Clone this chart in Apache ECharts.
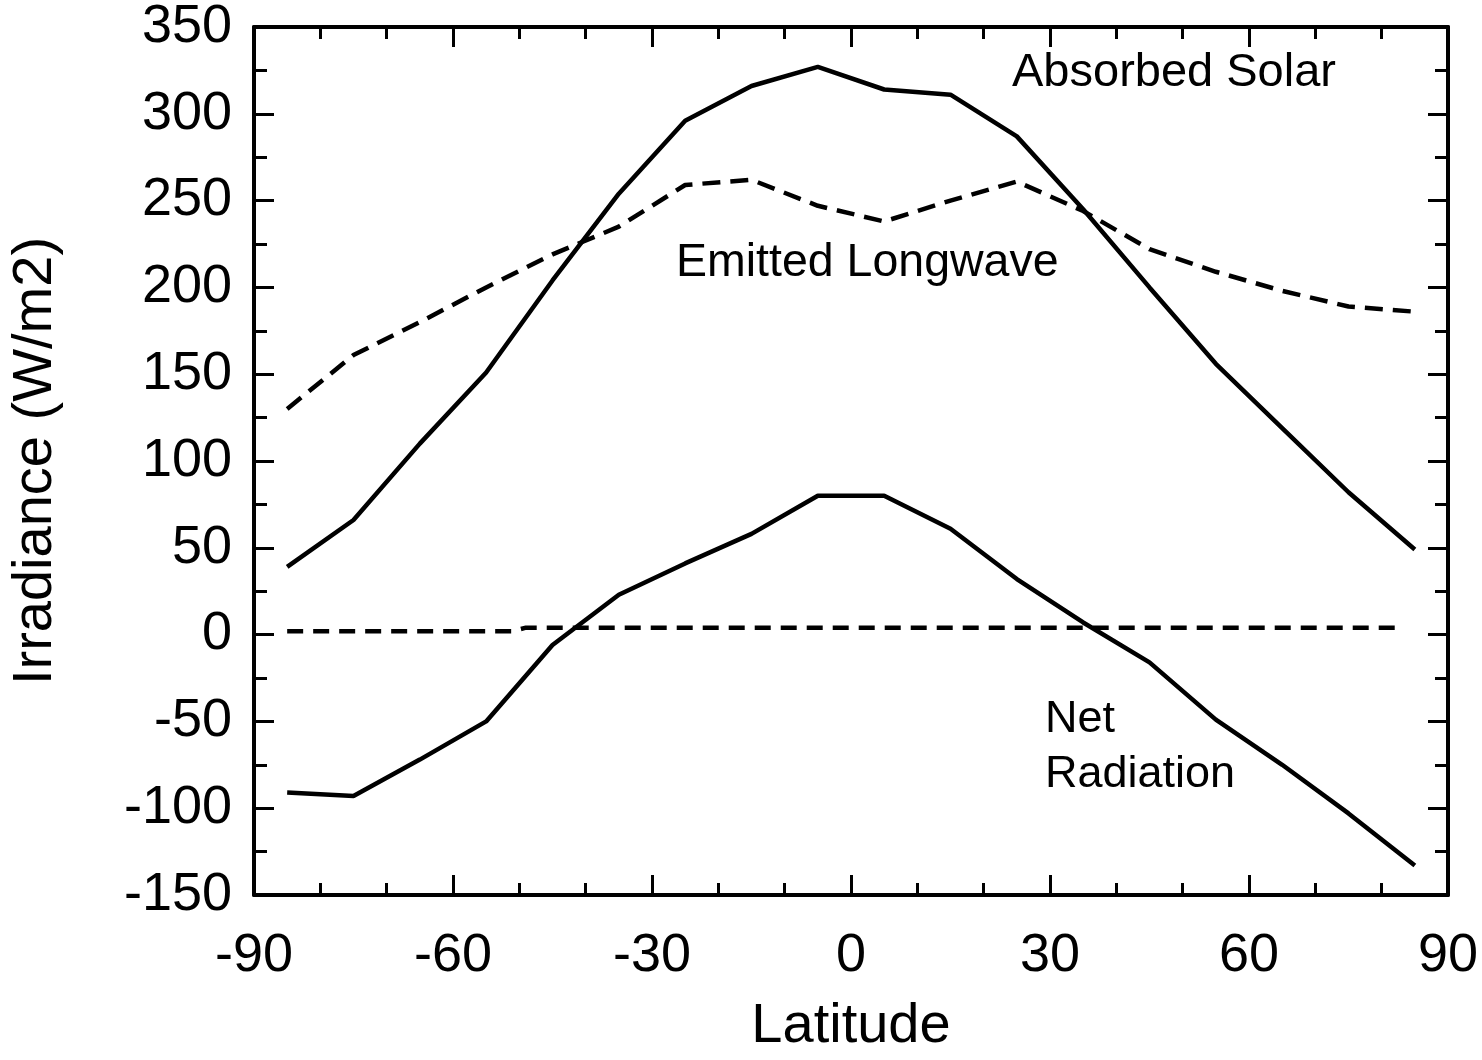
<!DOCTYPE html>
<html>
<head>
<meta charset="utf-8">
<script src="https://cdn.jsdelivr.net/npm/echarts@6/dist/echarts.min.js"></script>
<style>
  html, body { margin: 0; padding: 0; background: #ffffff; overflow: hidden; }
  #chart { width: 1482px; height: 1060px; }
</style>
</head>
<body>
<div id="chart"></div>
<script>
// Latitude band centres (degrees)
const latitudes = [-85, -75, -65, -55, -45, -35, -25, -15, -5, 5, 15, 25, 35, 45, 55, 65, 75, 85];
// Absorbed solar radiation (W/m2)
const absorbedSolar = [39, 66, 110, 151, 204, 254, 296, 316, 327, 314, 311, 287, 245, 200, 156, 119, 82, 49];
// Emitted longwave radiation (W/m2)
const emittedLongwave = [130, 161, 180, 200, 219, 235, 259, 262, 247, 238, 250, 261, 244, 222, 209, 198, 189, 186];
// Net radiation (W/m2)
const netRadiation = [-91, -93, -72, -50, -6, 23, 41, 58, 80, 80, 61, 32, 7, -16, -49, -75, -103, -133];
// Dashed reference (zero) line
const zeroLineLat = [-85, -51, -49, 82.5];
const zeroLineVal = [2, 2, 4, 4];
// Axis tick labels
const xTicks = [-90, -60, -30, 0, 30, 60, 90];
const yTicks = [-150, -100, -50, 0, 50, 100, 150, 200, 250, 300, 350];
// Curve annotations
const annotationTexts = ['Absorbed Solar', 'Emitted Longwave', 'Net', 'Radiation'];

// ---- layout (pixel placement of the annotation texts) ----
const annotationLayout = [
  { x: 1012, y: 73, size: 47 },
  { x: 676, y: 263, size: 46.5 },
  { x: 1045, y: 720, size: 45 },
  { x: 1045, y: 775, size: 45 }
];

const FONT = '"Liberation Sans", Arial, Helvetica, sans-serif';
const pairs = (xs, ys) => xs.map((x, i) => [x, ys[i]]);

const chart = echarts.init(document.getElementById('chart'), null, { renderer: 'canvas' });

const axisLineStyle = { lineStyle: { color: '#000', width: 4 } };
const baseX = {
  type: 'value',
  min: xTicks[0],
  max: xTicks[xTicks.length - 1],
  interval: 30,
  axisLine: { show: true, onZero: false, ...axisLineStyle },
  axisTick: { show: true, inside: true, length: 20, lineStyle: { color: '#000', width: 3 } },
  minorTick: { show: true, splitNumber: 3, length: 12, lineStyle: { color: '#000', width: 3 } },
  splitLine: { show: false },
  minorSplitLine: { show: false }
};
const baseY = {
  type: 'value',
  min: yTicks[0],
  max: yTicks[yTicks.length - 1],
  interval: 50,
  axisLine: { show: true, onZero: false, ...axisLineStyle },
  axisTick: { show: true, inside: true, length: 20, lineStyle: { color: '#000', width: 3 } },
  minorTick: { show: true, splitNumber: 2, length: 13, lineStyle: { color: '#000', width: 3 } },
  splitLine: { show: false },
  minorSplitLine: { show: false }
};

const option = {
  backgroundColor: '#ffffff',
  animation: false,
  grid: { left: 254, right: 34, top: 22, bottom: 156, containLabel: false },
  xAxis: [
    Object.assign({}, baseX, {
      position: 'bottom',
      name: 'Latitude',
      nameLocation: 'middle',
      nameGap: 104,
      nameTextStyle: { fontFamily: FONT, fontSize: 56, color: '#000' },
      axisLabel: { show: true, margin: 34, fontFamily: FONT, fontSize: 54, color: '#000' }
    }),
    Object.assign({}, baseX, {
      position: 'top',
      axisLabel: { show: false }
    })
  ],
  yAxis: [
    Object.assign({}, baseY, {
      position: 'left',
      name: 'Irradiance (W/m2)',
      nameLocation: 'middle',
      nameGap: 190,
      nameRotate: 90,
      nameTextStyle: { fontFamily: FONT, fontSize: 56, color: '#000' },
      axisLabel: { show: true, margin: 22, fontFamily: FONT, fontSize: 54, color: '#000' }
    }),
    Object.assign({}, baseY, {
      position: 'right',
      axisLabel: { show: false }
    })
  ],
  series: [
    {
      name: 'Absorbed Solar', type: 'line', symbol: 'none', xAxisIndex: 0, yAxisIndex: 0,
      data: pairs(latitudes, absorbedSolar),
      lineStyle: { color: '#000', width: 4.5, type: 'solid' }
    },
    {
      name: 'Emitted Longwave', type: 'line', symbol: 'none', xAxisIndex: 0, yAxisIndex: 0,
      data: pairs(latitudes, emittedLongwave),
      lineStyle: { color: '#000', width: 4.5, type: [18, 10] }
    },
    {
      name: 'Net Radiation', type: 'line', symbol: 'none', xAxisIndex: 0, yAxisIndex: 0,
      data: pairs(latitudes, netRadiation),
      lineStyle: { color: '#000', width: 4.5, type: 'solid' }
    },
    {
      name: 'Zero', type: 'line', symbol: 'none', xAxisIndex: 0, yAxisIndex: 0,
      data: pairs(zeroLineLat, zeroLineVal),
      lineStyle: { color: '#000', width: 4.5, type: [16, 10] }
    }
  ],
  graphic: annotationTexts.map((t, i) => ({
    type: 'text',
    x: annotationLayout[i].x,
    y: annotationLayout[i].y,
    silent: true,
    style: {
      text: t,
      fill: '#000',
      font: annotationLayout[i].size + 'px ' + FONT,
      align: 'left',
      verticalAlign: 'middle'
    }
  }))
};

chart.setOption(option);
</script>
</body>
</html>
